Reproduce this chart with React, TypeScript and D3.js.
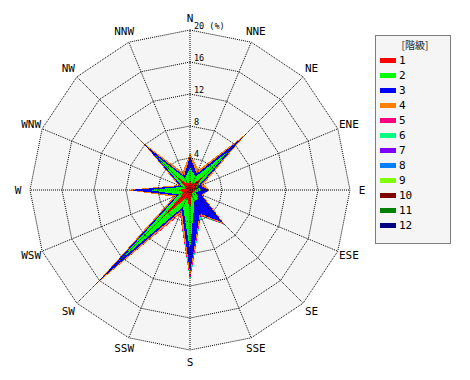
import React from "react";
import * as d3 from "d3";

const directions = ["N", "NNE", "NE", "ENE", "E", "ESE", "SE", "SSE", "S", "SSW", "SW", "WSW", "W", "WNW", "NW", "NNW"];
const classNames = ["1", "2", "3", "4", "5", "6", "7", "8", "9", "10", "11", "12"];
const classColors = ["#ff0000", "#00ff00", "#0000ff", "#ff8000", "#ff0080", "#00ff80", "#8000ff", "#0080ff", "#80ff00", "#800000", "#008000", "#000080"];
const radialTicks = [0, 4, 8, 12, 16, 20];

// frequency (%) of each class per direction (N, NNE, ... NNW)
const class1 = [1.2, 0.8, 2.5, 0.6, 0.8, 0.4, 0.5, 0.6, 2.5, 1.0, 5.0, 0.8, 1.5, 0.5, 2.5, 0.8];
const class2 = [1.6, 1.0, 4.5, 0.4, 0.7, 0.4, 1.0, 0.9, 5.0, 1.3, 7.5, 0.7, 3.7, 0.5, 3.7, 0.8];
const class3 = [1.4, 0.4, 2.3, 0.4, 0.9, 0.7, 4.2, 1.7, 2.9, 0.4, 3.5, 0.3, 2.3, 0.3, 1.7, 0.3];
const class4 = [0.4, 0.5, 0.7, 0.4, 0.1, 0.2, 0.3, 0.2, 0.5, 0.5, 0.8, 0.4, 0.4, 0.3, 0.5, 0.5];
const class5 = [0, 0, 0, 0, 0, 0, 0.1, 0.1, 0.3, 0.1, 0, 0, 0, 0, 0, 0];
const class6 = [0, 0, 0, 0, 0, 0, 0.1, 0.1, 0.2, 0, 0, 0, 0, 0, 0, 0];
const class7 = [0, 0, 0, 0, 0, 0, 0, 0, 0, 0, 0, 0, 0, 0, 0, 0];
const class8 = [0, 0, 0, 0, 0, 0, 0, 0, 0, 0, 0, 0, 0, 0, 0, 0];
const class9 = [0, 0, 0, 0, 0, 0, 0, 0, 0, 0, 0, 0, 0, 0, 0, 0];
const class10 = [0, 0, 0, 0, 0, 0, 0, 0, 0, 0, 0, 0, 0, 0, 0, 0];
const class11 = [0, 0, 0, 0, 0, 0, 0, 0, 0, 0, 0, 0, 0, 0, 0, 0];
const class12 = [0, 0, 0, 0, 0, 0, 0, 0, 0, 0, 0, 0, 0, 0, 0, 0];
const classValues = [class1, class2, class3, class4, class5, class6, class7, class8, class9, class10, class11, class12];

const CX = 190;
const CY = 190;
const R = 160;
const MONO = "'DejaVu Sans Mono', monospace";

export default function App() {
  const r = d3.scaleLinear().domain([0, 20]).range([0, R]);
  const ang = (i: number) => (i * 2 * Math.PI) / directions.length;
  const pt = (i: number, v: number): [number, number] => [
    CX + Math.sin(ang(i)) * r(v),
    CY - Math.cos(ang(i)) * r(v),
  ];

  // cumulative stacks
  const cumulative: number[][] = [];
  classValues.forEach((vals, k) => {
    cumulative.push(vals.map((v, i) => v + (k > 0 ? cumulative[k - 1][i] : 0)));
  });

  const line = d3.line<[number, number]>().curve(d3.curveLinearClosed);
  const ringPath = (v: number) => line(directions.map((_, i) => pt(i, v))) as string;

  // draw only classes that add something on top of the previous class, largest first
  const order = d3.range(classValues.length).reverse().filter((k) => k === 0 || d3.sum(classValues[k]) > 0);

  return (
    <svg width={470} height={380} style={{ position: "absolute", left: 0, top: 0, background: "#fff" }}>
      <path d={ringPath(20)} fill="#f5f5f5" />
      {order.map((k) => (
        <path
          key={k}
          d={line(cumulative[k].map((v, i) => pt(i, v))) as string}
          fill={classColors[k]}
          stroke="none"
          shapeRendering="crispEdges"
        />
      ))}
      {radialTicks.slice(1).map((t) => (
        <path key={t} d={ringPath(t)} fill="none" stroke="#000" strokeWidth={1} strokeDasharray="1 1" />
      ))}
      {directions.map((d, i) => {
        const [x, y] = pt(i, 20);
        return <line key={d} x1={CX} y1={CY} x2={x} y2={y} stroke="#000" strokeWidth={1} strokeDasharray="1 1" />;
      })}
      {radialTicks.map((t) => (
        <text key={t} x={CX + 4} y={CY - r(t) - 1} fontFamily={MONO} fontSize={8.5} fill="#000">
          {t === 20 ? "20 (%)" : String(t)}
        </text>
      ))}
      {directions.map((d, i) => {
        const a = ang(i);
        const x = CX + Math.sin(a) * 172;
        const y = CY - Math.cos(a) * 172;
        return (
          <text key={d} x={x} y={y} textAnchor="middle" dominantBaseline="central" fontFamily={MONO} fontSize={11} fill="#000">
            {d}
          </text>
        );
      })}
      <g>
        <rect x={375.5} y={35.5} width={75} height={208} fill="#f5f5f5" stroke="#000" strokeDasharray="1 1" />
        <text x={415} y={44} textAnchor="middle" dominantBaseline="central" fontFamily="'Noto Sans CJK JP', sans-serif" fontSize={10} fill="#222">
          [階級]
        </text>
        {classNames.map((c, k) => (
          <g key={c}>
            <rect x={380} y={58 + k * 15} width={16} height={5} fill={classColors[k]} />
            <text x={399} y={60.5 + k * 15} dominantBaseline="central" fontFamily={MONO} fontSize={11} fill="#000">
              {c}
            </text>
          </g>
        ))}
      </g>
    </svg>
  );
}
